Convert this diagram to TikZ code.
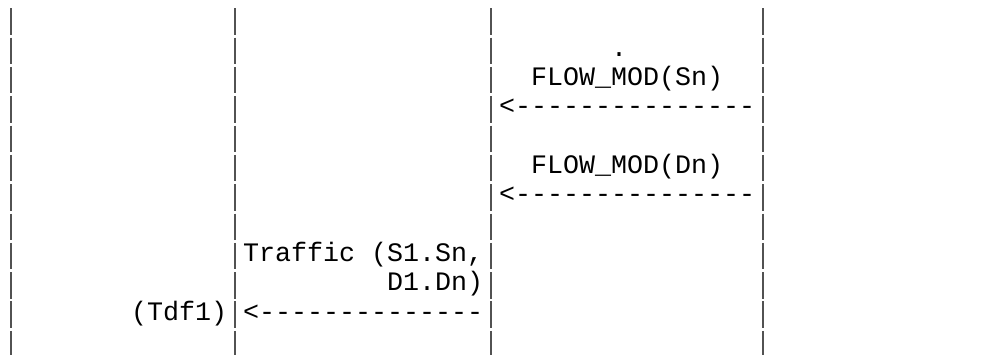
\documentclass[tikz,border=0pt]{standalone}
\usepackage{fontspec}
\setmonofont{Liberation Mono}
\begin{document}
\begin{tikzpicture}[x=1pt,y=1pt,
  txt/.style={anchor=base west, inner sep=0pt, outer sep=0pt, text=black,
    font=\ttfamily\fontsize{26.67pt}{29.33pt}\selectfont},
  bar/.style={draw=black!68, line width=1.9pt}]
\useasboundingbox (0,0) rectangle (997,-355);
\newcommand\asc[4]{\node[txt] (#1) at ({3+16*#2},{-(27+29.33*#3)}) {#4};}
% lifelines drawn as the ASCII bars of each row
\foreach \r in {0,...,11}{
  \foreach \c in {0,14,30,47}{
    \coordinate (t-\r-\c) at ({11+16*\c},{-(8.2+29.33*\r)});
    \coordinate (b-\r-\c) at ({11+16*\c},{-(34.6+29.33*\r)});
    \draw[bar] (t-\r-\c) -- (b-\r-\c);
  }
}
% messages
\asc{dot}{38}{1}{.}
\asc{fmsn}{33}{2}{FLOW\_MOD(Sn)}
\asc{arr1}{31}{3}{<---------------}
\asc{fmdn}{33}{5}{FLOW\_MOD(Dn)}
\asc{arr2}{31}{6}{<---------------}
\asc{trA}{15}{8}{Traffic (S1.Sn,}
\asc{trB}{24}{9}{D1.Dn)}
\asc{tdf}{8}{10}{(Tdf1)}
\asc{arr3}{15}{10}{<--------------}
\end{tikzpicture}
\end{document}
